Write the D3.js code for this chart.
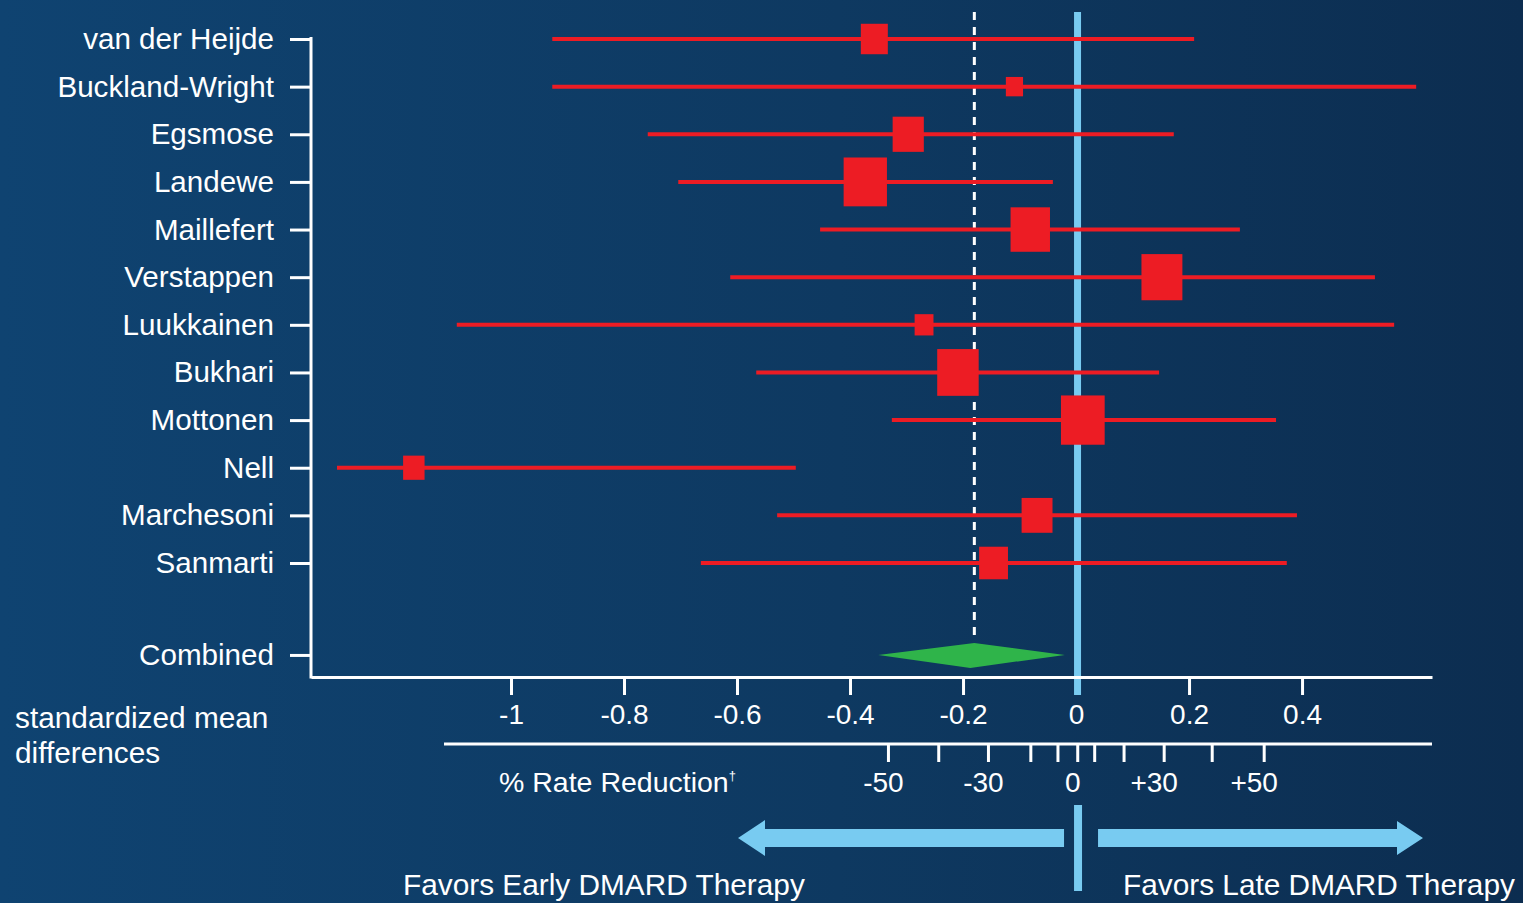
<!DOCTYPE html>
<html>
<head>
<meta charset="utf-8">
<script src="https://cdn.jsdelivr.net/npm/d3@7"></script>
<style>
  html, body { margin: 0; padding: 0; background: #0e3a63; }
  svg { display: block; font-family: 'Liberation Sans', Arial, sans-serif; }
</style>
</head>
<body>
<div class="canvas"></div>
<script>
// data
const studies = ['van der Heijde', 'Buckland-Wright', 'Egsmose', 'Landewe', 'Maillefert', 'Verstappen',
  'Luukkainen', 'Bukhari', 'Mottonen', 'Nell', 'Marchesoni', 'Sanmarti'];
const estimates = [-0.357, -0.109, -0.297, -0.373, -0.081, 0.152, -0.269, -0.209, 0.012, -1.172, -0.069, -0.146];
const lower = [-0.927, -0.927, -0.758, -0.704, -0.453, -0.612, -1.096, -0.566, -0.326, -1.308, -0.529, -0.664];
const upper = [0.209, 0.602, 0.173, -0.041, 0.29, 0.529, 0.563, 0.147, 0.354, -0.496, 0.391, 0.373];
const weights = [8.4, 3.4, 11.2, 21.6, 17.9, 19.3, 4.1, 19.8, 22.0, 5.3, 11.0, 9.6];

const combined = { name: 'Combined', est: -0.18, lo: -0.35, hi: -0.02 };

const smdTicks = [-1, -0.8, -0.6, -0.4, -0.2, 0, 0.2, 0.4];
// % rate reduction ticks and their position on the SMD scale
const pctTicks = [-50, -40, -30, -20, -10, 0, 10, 20, 30, 40, 50];
const pctAsSmd = [-0.332, -0.243, -0.155, -0.08, -0.032, 0.003, 0.033, 0.085, 0.156, 0.241, 0.333];
const pctLabels = [-50, -30, 0, 30, 50];

const width = 1523;
const height = 903;
const red = '#ed1c24';
const lightBlue = '#78cbf1';

const svg = d3
  .select('.canvas')
  .append('svg')
  .attr('width', width)
  .attr('height', height);

// background gradient
const grad = svg
  .append('defs')
  .append('linearGradient')
  .attr('id', 'bg')
  .attr('x1', 0)
  .attr('x2', 1)
  .attr('y1', 0)
  .attr('y2', 0);
grad.append('stop').attr('offset', '0%').attr('stop-color', '#0f4371');
grad.append('stop').attr('offset', '55%').attr('stop-color', '#0e3961');
grad.append('stop').attr('offset', '100%').attr('stop-color', '#0c2d50');

svg.append('rect').attr('width', width).attr('height', height).attr('fill', 'url(#bg)');

// scales
const x = d3.scaleLinear().domain([-1.354, 0.63]).range([311, 1432]);
const y = d3.scaleLinear().domain([0, 11]).range([39, 563]);
const size = d3.scaleSqrt().domain([0, 22]).range([0, 46.5]);

const rows = studies.map((name, i) => ({
  name,
  idx: i,
  est: estimates[i],
  lo: lower[i],
  hi: upper[i],
  w: weights[i]
}));
combined.idx = 12.93;

const axisY = 677;

// y axis with study names
const yAxis = d3
  .axisLeft(y)
  .tickValues(rows.map(d => d.idx).concat([combined.idx]))
  .tickFormat((d, i) => (i < rows.length ? rows[i].name : combined.name))
  .tickSize(21)
  .tickPadding(16);

const yAxisGroup = svg
  .append('g')
  .attr('class', 'y-axis')
  .attr('transform', 'translate(311, 0)')
  .call(yAxis);

yAxisGroup.select('.domain').remove();
yAxisGroup.selectAll('line').attr('stroke', '#fff').attr('stroke-width', 3);
yAxisGroup
  .selectAll('text')
  .attr('fill', '#fff')
  .attr('font-size', 29.6)
  .attr('font-family', "'Liberation Sans', Arial, sans-serif");

svg
  .append('line')
  .attr('x1', 311)
  .attr('x2', 311)
  .attr('y1', 37)
  .attr('y2', axisY + 1.5)
  .attr('stroke', '#fff')
  .attr('stroke-width', 3);

// zero line and pooled-estimate dotted line
svg
  .append('line')
  .attr('x1', x(0) + 1.5)
  .attr('x2', x(0) + 1.5)
  .attr('y1', 12)
  .attr('y2', 695)
  .attr('stroke', lightBlue)
  .attr('stroke-width', 7);

svg
  .append('line')
  .attr('x1', x(combined.est))
  .attr('x2', x(combined.est))
  .attr('y1', 12)
  .attr('y2', 637)
  .attr('stroke', '#fff')
  .attr('stroke-width', 3)
  .attr('stroke-dasharray', '8,7');

// top x axis (standardized mean differences)
const xAxis = d3
  .axisBottom(x)
  .tickValues(smdTicks)
  .tickSize(18)
  .tickSizeOuter(0)
  .tickPadding(9)
  .tickFormat(d => String(+d.toFixed(1)));

const xAxisGroup = svg
  .append('g')
  .attr('class', 'x-axis')
  .attr('transform', `translate(0, ${axisY})`)
  .call(xAxis);

xAxisGroup.select('.domain').attr('stroke', '#fff').attr('stroke-width', 3);
xAxisGroup
  .selectAll('.tick line')
  .attr('stroke', d => (d === 0 ? 'none' : '#fff'))
  .attr('stroke-width', 3);
xAxisGroup
  .selectAll('text')
  .attr('fill', '#fff')
  .attr('font-size', 28)
  .attr('font-family', "'Liberation Sans', Arial, sans-serif");

// confidence intervals
svg
  .append('g')
  .selectAll('line')
  .data(rows)
  .enter()
  .append('line')
  .attr('x1', d => x(d.lo))
  .attr('x2', d => x(d.hi))
  .attr('y1', d => y(d.idx))
  .attr('y2', d => y(d.idx))
  .attr('stroke', red)
  .attr('stroke-width', 4);

// study weight squares
svg
  .append('g')
  .selectAll('rect')
  .data(rows)
  .enter()
  .append('rect')
  .attr('x', d => x(d.est) - (size(d.w) * 0.94) / 2)
  .attr('y', d => y(d.idx) - (size(d.w) * 1.06) / 2)
  .attr('width', d => size(d.w) * 0.94)
  .attr('height', d => size(d.w) * 1.06)
  .attr('fill', red);

// combined diamond
const cy = y(combined.idx);
svg
  .append('path')
  .attr(
    'd',
    `M${x(combined.lo)},${cy}L${x(combined.est)},${cy - 12}L${x(combined.hi)},${cy}L${x(combined.est) - 4},${cy + 13}Z`
  )
  .attr('fill', '#2fb44a');

// second axis (% rate reduction)
const axis2Y = 744;
svg
  .append('line')
  .attr('x1', 444)
  .attr('x2', 1432)
  .attr('y1', axis2Y)
  .attr('y2', axis2Y)
  .attr('stroke', '#fff')
  .attr('stroke-width', 3);

svg
  .append('g')
  .selectAll('line')
  .data(pctAsSmd)
  .enter()
  .append('line')
  .attr('x1', d => x(d))
  .attr('x2', d => x(d))
  .attr('y1', axis2Y)
  .attr('y2', axis2Y + 18)
  .attr('stroke', '#fff')
  .attr('stroke-width', 3);

svg
  .append('g')
  .selectAll('text')
  .data(pctLabels)
  .enter()
  .append('text')
  .attr('x', d => x(pctAsSmd[pctTicks.indexOf(d)]) - (d > 0 ? 10 : 5))
  .attr('y', 792)
  .attr('text-anchor', 'middle')
  .attr('fill', '#fff')
  .attr('font-size', 28)
  .text(d => (d > 0 ? '+' + d : String(d)));

const rr = svg
  .append('text')
  .attr('x', 499)
  .attr('y', 792)
  .attr('fill', '#fff')
  .attr('font-size', 28.5)
  .text('% Rate Reduction');
rr.append('tspan').attr('font-size', 13).attr('dy', -12).text('†');

// left side axis caption
svg
  .append('text')
  .attr('x', 15)
  .attr('y', 728)
  .attr('fill', '#fff')
  .attr('font-size', 29.8)
  .text('standardized mean');
svg
  .append('text')
  .attr('x', 15)
  .attr('y', 763)
  .attr('fill', '#fff')
  .attr('font-size', 29.8)
  .text('differences');

// direction arrows
const arrowY = 838;
svg
  .append('path')
  .attr(
    'd',
    `M${x(0) - 12},${arrowY - 9}H765V${arrowY - 18}L738,${arrowY}L765,${arrowY + 18}V${arrowY + 9}H${x(0) - 12}Z`
  )
  .attr('fill', lightBlue);
svg
  .append('path')
  .attr(
    'd',
    `M${x(0) + 22},${arrowY - 9}H1397V${arrowY - 17}L1423,${arrowY}L1397,${arrowY + 17}V${arrowY + 9}H${x(0) + 22}Z`
  )
  .attr('fill', lightBlue);
svg
  .append('line')
  .attr('x1', x(0) + 2)
  .attr('x2', x(0) + 2)
  .attr('y1', 805)
  .attr('y2', 891)
  .attr('stroke', lightBlue)
  .attr('stroke-width', 8);

svg
  .append('text')
  .attr('x', 403)
  .attr('y', 895)
  .attr('fill', '#fff')
  .attr('font-size', 29.8)
  .text('Favors Early DMARD Therapy');
svg
  .append('text')
  .attr('x', 1123)
  .attr('y', 895)
  .attr('fill', '#fff')
  .attr('font-size', 29.8)
  .text('Favors Late DMARD Therapy');
</script>
</body>
</html>
